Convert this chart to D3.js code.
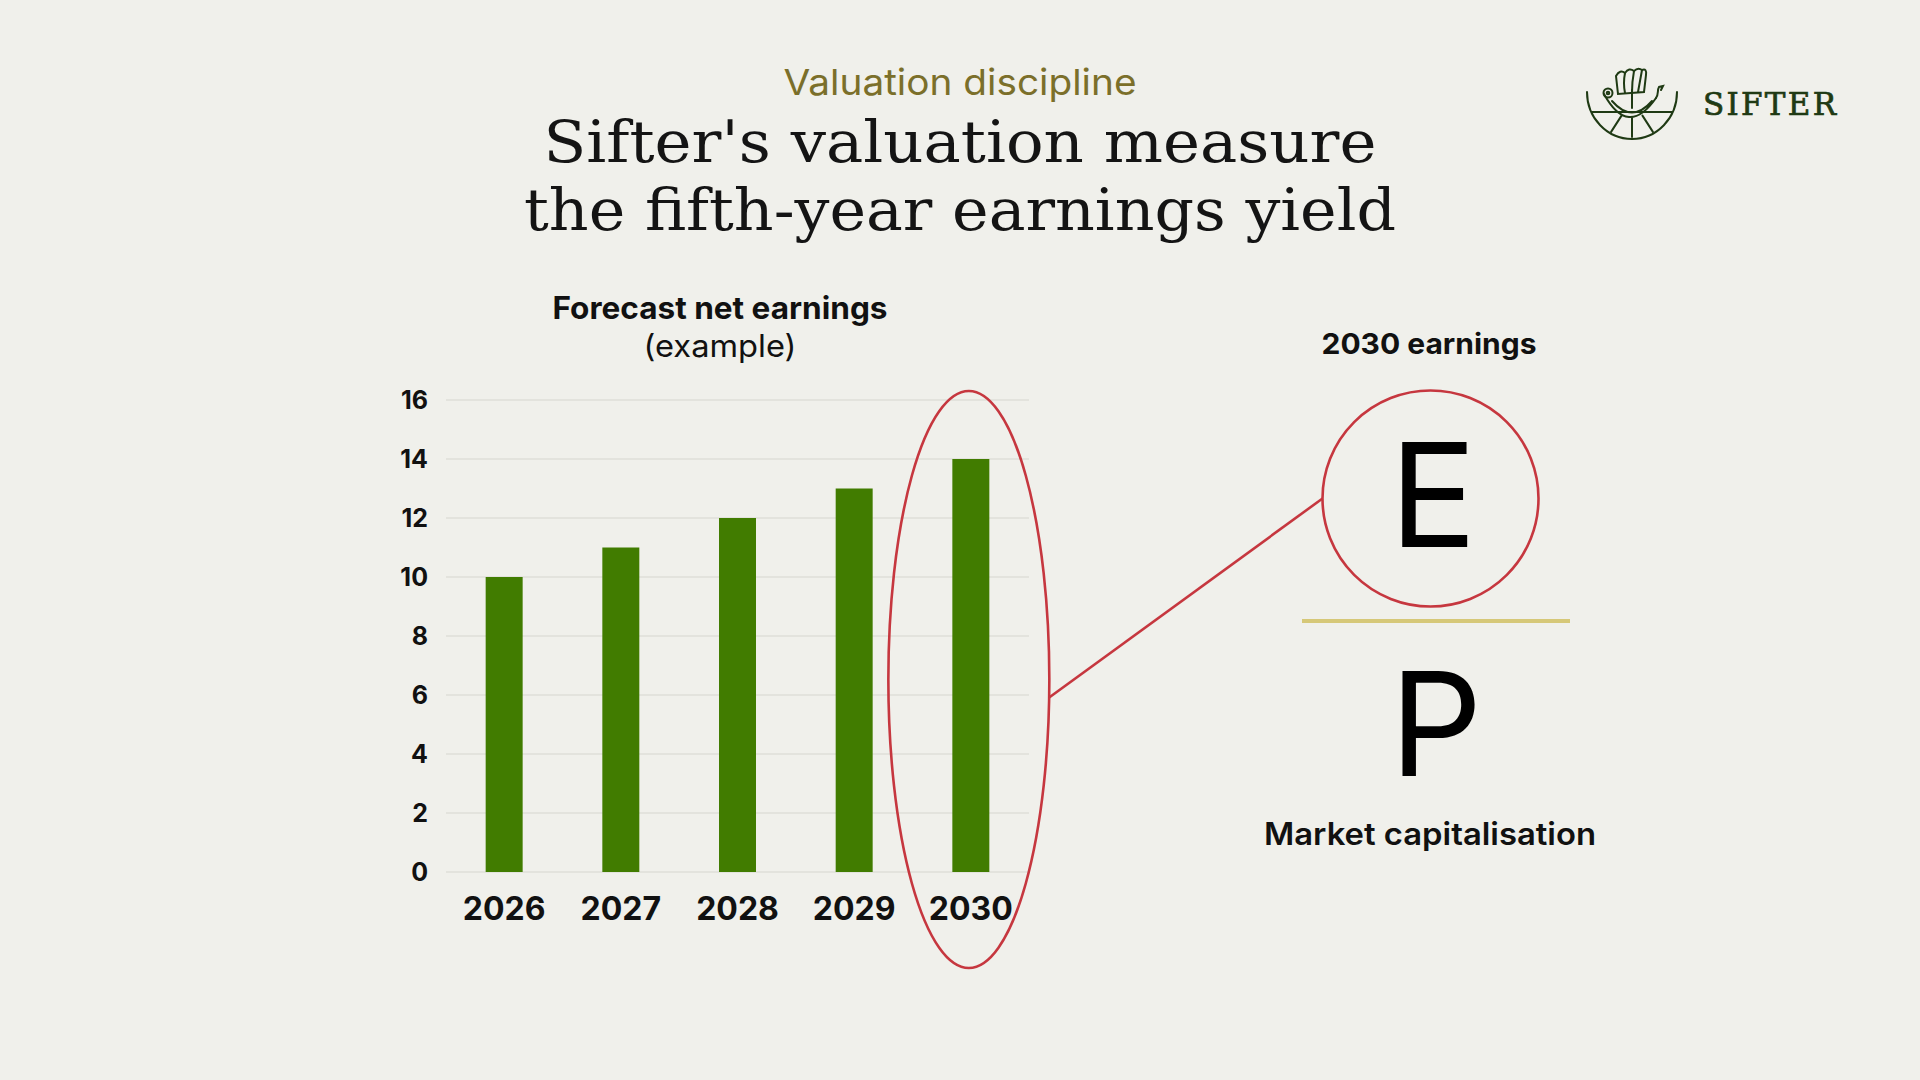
<!DOCTYPE html>
<html>
<head>
<meta charset="utf-8">
<script src="https://cdn.jsdelivr.net/npm/d3@7"></script>
<style>
  html, body { margin: 0; padding: 0; background: #f0f0eb; }
  svg { display: block; }
</style>
</head>
<body>
<div id="chart"></div>
<script>
// chart data
const years = ['2026', '2027', '2028', '2029', '2030'];
const earnings = [10, 11, 12, 13, 14];
const yTicks = [0, 2, 4, 6, 8, 10, 12, 14, 16];
const highlightYear = '2030';

const W = 1920, H = 1080;
const sans = 'Inter, "Noto Sans", sans-serif';
const slab = '"DejaVu Serif", serif';

const svg = d3.select('#chart').append('svg')
  .attr('width', W)
  .attr('height', H)
  .style('background', '#f0f0eb');

// small helper for centred labels, width matched to the slide
function label(txt, cx, by, size, weight, fill, len) {
  const t = svg.append('text')
    .attr('x', cx).attr('y', by)
    .attr('text-anchor', 'middle')
    .style('font-family', sans).style('font-size', size + 'px').style('font-weight', weight)
    .attr('fill', fill)
    .text(txt);
  if (len) t.attr('textLength', len).attr('lengthAdjust', 'spacingAndGlyphs');
  return t;
}

// header
label('Valuation discipline', 960, 95, 36, 400, '#7b6f2a', 353);

const titleLines = [
  { t: "Sifter's valuation measure", y: 162, w: 833 },
  { t: 'the fifth-year earnings yield', y: 230, w: 872 }
];
svg.selectAll('.title').data(titleLines).enter().append('text')
  .attr('class', 'title')
  .attr('x', 960).attr('y', d => d.y)
  .attr('text-anchor', 'middle')
  .attr('textLength', d => d.w)
  .attr('lengthAdjust', 'spacingAndGlyphs')
  .style('font-family', slab).style('font-size', '57px')
  .attr('fill', '#141414')
  .text(d => d.t);

// logo
const logo = svg.append('g')
  .attr('transform', 'translate(1632,102)')
  .attr('fill', 'none')
  .attr('stroke', '#1f3a14')
  .attr('stroke-width', 2)
  .attr('stroke-linecap', 'round');
logo.append('path').attr('d', 'M-45,-10 A45,47 0 0 0 45,-10');
logo.append('path').attr('d', 'M-40,10 L40,10');
[-1, 0, 1].forEach(k => {
  const a = Math.PI / 2 + k * 0.55;
  logo.append('path')
    .attr('d', `M${Math.cos(a) * 20},${Math.sin(a) * 16} L${Math.cos(a) * 40},${Math.sin(a) * 35}`);
});
// hull
logo.append('path').attr('d', 'M-28,-8 Q-4,36 24,-4 M-20,-1 Q0,22 20,-1');
logo.append('path').attr('d', 'M24,-4 C27,-8 25,-12 27,-15 L31,-16 L29,-12');
logo.append('circle').attr('cx', -24).attr('cy', -9).attr('r', 4.5);
logo.append('circle').attr('cx', -24).attr('cy', -9).attr('r', 1.3);
// mast and sail
logo.append('path').attr('d', 'M0,-12 L0,6');
logo.append('path').attr('d', 'M-14,-8 L-16,-26 Q-12,-33 -7,-29 Q-3,-35 2,-31 Q6,-35 10,-32 Q15,-34 14,-27 L12,-10 Z');
logo.append('path').attr('d', 'M-7,-29 Q-9,-19 -7,-9 M2,-31 Q0,-20 0,-10 M10,-32 Q8,-21 6,-10');

svg.append('text')
  .attr('x', 1703).attr('y', 115)
  .attr('textLength', 133)
  .attr('lengthAdjust', 'spacing')
  .style('font-family', slab).style('font-size', '31px').style('font-weight', 400)
  .attr('fill', '#1f3a14')
  .attr('stroke', '#1f3a14')
  .attr('stroke-width', 0.7)
  .text('SIFTER');

// bar chart
const x = d3.scaleBand()
  .domain(years)
  .range([446, 1029])
  .paddingInner(0.683)
  .paddingOuter(0.34);

const y = d3.scaleLinear()
  .domain([0, 16])
  .range([872, 400]);

label('Forecast net earnings', 720, 319, 31, 700, '#111', 335);
label('(example)', 720, 357, 31, 400, '#111', 153);

// gridlines
svg.append('g').selectAll('line').data(yTicks).enter().append('line')
  .attr('x1', x.range()[0]).attr('x2', x.range()[1])
  .attr('y1', d => y(d)).attr('y2', d => y(d))
  .attr('stroke', '#dfdfd9')
  .attr('stroke-width', 1.5);

svg.append('g').selectAll('rect').data(years).enter().append('rect')
  .attr('fill', '#417c00')
  .attr('x', d => x(d))
  .attr('y', (d, i) => y(earnings[i]))
  .attr('width', x.bandwidth())
  .attr('height', (d, i) => y(0) - y(earnings[i]));

const yAxis = g => g
  .attr('transform', `translate(${x.range()[0]},0)`)
  .call(d3.axisLeft(y).tickValues(yTicks).tickSize(0).tickPadding(18))
  .call(g => g.select('.domain').remove());

const xAxis = g => g
  .attr('transform', `translate(0,${y(0)})`)
  .call(d3.axisBottom(x).tickSize(0))
  .call(g => g.select('.domain').remove())
  .call(g => g.selectAll('text').attr('y', 48).attr('dy', 0));

svg.append('g')
  .style('font-family', sans).style('font-size', '25px').style('font-weight', 700)
  .call(yAxis)
  .selectAll('text').attr('fill', '#111');

svg.append('g')
  .style('font-family', sans).style('font-size', '32px').style('font-weight', 700)
  .call(xAxis)
  .selectAll('text').attr('fill', '#111');

// highlight of the final year
const hx = x(highlightYear) + x.bandwidth() / 2 - 2;
const ell = { cx: hx, cy: (y(16) - 9 + y(0) + 96) / 2, rx: 80.5, ry: (y(0) + 96 - (y(16) - 9)) / 2 };
svg.append('ellipse')
  .attr('cx', ell.cx).attr('cy', ell.cy)
  .attr('rx', ell.rx).attr('ry', ell.ry)
  .attr('fill', 'none')
  .attr('stroke', '#c6373f')
  .attr('stroke-width', 2.6);

// E / P formula
const circ = { cx: 1430.5, cy: 498.5, r: 108 };
const startY = ell.cy + 18;
const startX = ell.cx + ell.rx * Math.sqrt(1 - Math.pow(18 / ell.ry, 2));
svg.append('line')
  .attr('x1', startX).attr('y1', startY)
  .attr('x2', circ.cx - circ.r).attr('y2', circ.cy)
  .attr('stroke', '#c6373f')
  .attr('stroke-width', 2.6);

svg.append('circle')
  .attr('cx', circ.cx).attr('cy', circ.cy).attr('r', circ.r)
  .attr('fill', 'none')
  .attr('stroke', '#c6373f')
  .attr('stroke-width', 2.6);

label(highlightYear + ' earnings', 1429, 354, 29, 700, '#111', 215);

label('E', 1433, 547, 145, 400, '#000');

svg.append('line')
  .attr('x1', 1302).attr('x2', 1570)
  .attr('y1', 621).attr('y2', 621)
  .attr('stroke', '#d6c878')
  .attr('stroke-width', 4);

label('P', 1436, 776, 145, 400, '#000');

label('Market capitalisation', 1430, 845, 31, 600, '#111', 332);
</script>
</body>
</html>
